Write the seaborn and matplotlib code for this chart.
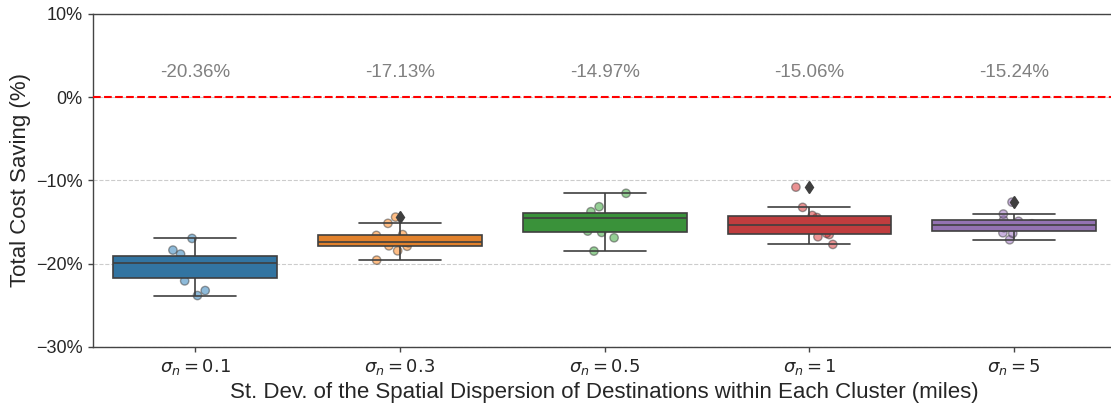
import numpy as np
import pandas as pd
import matplotlib
matplotlib.use("Agg")
import matplotlib.pyplot as plt
import matplotlib.ticker as mtick
import seaborn as sns

# Spatial dispersion scenarios (std. dev. in miles) and their tick labels
sigmas = ["0.1", "0.3", "0.5", "1", "5"]
tick_labels = [r"$\sigma_n = 0.1$", r"$\sigma_n = 0.3$", r"$\sigma_n = 0.5$",
               r"$\sigma_n = 1$", r"$\sigma_n = 5$"]

# Total cost saving (%) for each of the ten instances per scenario
saving_s01 = [-23.82, -23.22, -22.06, -20.80, -20.10, -19.79, -19.65, -18.84, -18.36, -16.96]
saving_s03 = [-19.57, -18.45, -17.90, -17.85, -17.48, -17.40, -16.60, -16.50, -15.15, -14.40]
saving_s05 = [-18.48, -16.88, -16.24, -16.08, -14.54, -14.52, -14.52, -13.75, -13.15, -11.54]
saving_s1 = [-17.68, -16.76, -16.50, -16.35, -15.40, -15.23, -14.45, -14.20, -13.23, -10.80]
saving_s5 = [-17.12, -16.35, -16.28, -15.67, -15.50, -15.20, -14.90, -14.75, -14.03, -12.60]

groups = [saving_s01, saving_s03, saving_s05, saving_s1, saving_s5]
df = pd.DataFrame({
    "sigma": np.repeat(sigmas, [len(g) for g in groups]),
    "saving": np.concatenate(groups),
})

sns.set_theme(style="ticks")
plt.rcParams["font.family"] = ["Liberation Sans", "DejaVu Sans"]
plt.rcParams["mathtext.fontset"] = "dejavusans"

fig = plt.figure(figsize=(11.11, 4.03), dpi=100)
ax = fig.add_axes([0.0833, 0.139, 0.9218, 0.8263])

ax.yaxis.grid(True, linestyle="--", color="#cccccc", linewidth=0.8)
ax.set_axisbelow(True)

np.random.seed(3)
sns.stripplot(data=df, x="sigma", y="saving", hue="sigma", palette="tab10",
              order=sigmas, hue_order=sigmas, legend=False, jitter=0.12,
              size=6, alpha=0.5, edgecolor="gray", linewidth=1, ax=ax, zorder=1)

line_c = "#3f3f3f"
sns.boxplot(data=df, x="sigma", y="saving", hue="sigma", palette="tab10",
            order=sigmas, hue_order=sigmas, legend=False, saturation=0.75,
            width=0.8, linecolor=line_c, linewidth=1.2,
            flierprops=dict(marker="d", markerfacecolor=line_c,
                            markeredgecolor=line_c, markersize=6),
            ax=ax)

ax.axhline(0, color="red", linestyle="--", linewidth=1.5, zorder=3)

# Mean saving of each scenario written above the boxes
for i, g in enumerate(groups):
    ax.text(i, 3, f"{np.mean(g):.2f}%", ha="center", va="center",
            color="gray", fontsize=13.5)

ax.set_ylim(-30, 10)
ax.set_yticks([-30, -20, -10, 0, 10])
ax.yaxis.set_major_formatter(mtick.PercentFormatter(decimals=0))
ax.set_xticks(range(len(sigmas)))
ax.set_xticklabels(tick_labels)
ax.tick_params(axis="both", labelsize=13, length=3.5, width=1, color="#444444")
for spine in ax.spines.values():
    spine.set_color("#444444")
    spine.set_linewidth(1.0)
ax.set_xlabel("St. Dev. of the Spatial Dispersion of Destinations within Each Cluster (miles)",
              fontsize=16)
ax.set_ylabel("Total Cost Saving (%)", fontsize=16)

fig.savefig("out.png", dpi=100)
